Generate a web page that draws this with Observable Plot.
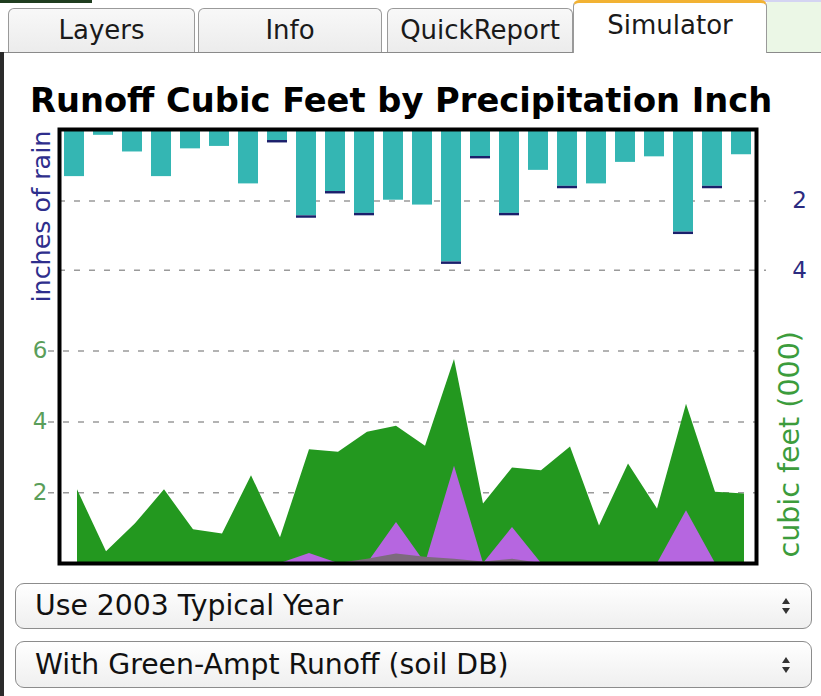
<!DOCTYPE html>
<html>
<head>
<meta charset="utf-8">
<script src="https://cdn.jsdelivr.net/npm/d3@7"></script>
<script src="https://cdn.jsdelivr.net/npm/@observablehq/plot@0.6"></script>
<style>
html, body { margin: 0; padding: 0; background: #fff; }
body { width: 821px; height: 696px; position: relative; overflow: hidden; font-family: "DejaVu Sans", Verdana, sans-serif; }
.strip-dark { position: absolute; left: 0; top: 0; width: 92px; height: 3px; background: #1f3d1f; }
.strip-lav { position: absolute; left: 640px; top: 0; width: 181px; height: 2px; background: #d4d4f2; }
.leftbar { position: absolute; left: 0; top: 52px; width: 4px; height: 644px; background: #2b2b2b; }
.baseline { position: absolute; top: 52px; height: 1px; background: #8a8a8a; }
.greenpad { position: absolute; left: 767px; top: 2px; width: 54px; height: 50px; background: #ebf7e6; }
.tab { position: absolute; top: 8px; height: 44px; box-sizing: border-box; border: 1px solid #9a9a9a; border-bottom: none;
       border-radius: 6px 6px 0 0; background: linear-gradient(#f8f8f8, #ececec); font-size: 26px; color: #1a1a1a;
       text-align: center; line-height: 43px; }
.tab.active { top: 0; height: 53px; background: #fff; border-top: 3px solid #f2b233; line-height: 44px; }
.title { position: absolute; left: 30px; top: 84px; font-weight: bold; font-size: 33.7px; line-height: 1; color: #000; white-space: nowrap; }
.select { position: absolute; left: 15px; width: 797px; box-sizing: border-box; border: 1px solid #8c8c8c; border-radius: 9px;
          background: linear-gradient(#ffffff, #efefef); font-size: 28.3px; color: #111; padding-left: 19px; white-space: nowrap; }
.arrows { position: absolute; right: 20px; top: 50%; width: 10px; height: 18px; margin-top: -9px; }
.arrows:before, .arrows:after { content: ""; position: absolute; left: 1px; border-left: 4px solid transparent; border-right: 4px solid transparent; }
.arrows:before { top: 1px; border-bottom: 6px solid #333; }
.arrows:after { bottom: 1px; border-top: 6px solid #333; }
#chart { position: absolute; left: 0; top: 80px; width: 821px; height: 500px; }
#chart svg { position: absolute; left: 0; top: 0; max-width: none; }
</style>
</head>
<body>
<div class="strip-dark"></div>
<div class="strip-lav"></div>
<div class="greenpad"></div>
<div class="baseline" style="left:0;width:573px"></div>
<div class="baseline" style="left:767px;width:54px"></div>
<div class="leftbar"></div>
<div class="tab" style="left:8px;width:187px">Layers</div>
<div class="tab" style="left:198px;width:184px">Info</div>
<div class="tab" style="left:387px;width:186px">QuickReport</div>
<div class="tab active" style="left:573px;width:194px">Simulator</div>
<div class="title">Runoff Cubic Feet by Precipitation Inch</div>
<div id="chart"></div>
<div class="select" style="top:583px;height:46px;line-height:44px">Use 2003 Typical Year<span class="arrows"></span></div>
<div class="select" style="top:641px;height:47px;line-height:45px">With Green-Ampt Runoff (soil DB)<span class="arrows"></span></div>

<script>
// ---- data ----
const periods = [1,2,3,4,5,6,7,8,9,10,11,12,13,14,15,16,17,18,19,20,21,22,23,24];
// total inches of rain per period (bar length, including dark tip)
const rainInches = [1.30,0.11,0.59,1.30,0.50,0.43,1.51,0.33,2.50,1.80,2.43,1.98,2.12,3.83,0.79,2.43,1.12,1.65,1.51,0.89,0.73,2.97,1.65,0.67];
// dark navy tip at the end of some bars
const rainExcess = [0,0,0,0,0,0,0,0.07,0.07,0.07,0.07,0,0,0.07,0.07,0.07,0,0.07,0,0,0,0.07,0.07,0];
// runoff, thousands of cubic feet
const runoffGreen  = [2.08,0.33,1.12,2.08,0.95,0.83,2.48,0.73,3.21,3.14,3.71,3.88,3.31,5.76,1.68,2.70,2.62,3.29,1.06,2.81,1.54,4.50,2.01,1.96];
const runoffPurple = [0,0,0,0,0,0,0,0,0.28,0,0,1.16,0,2.75,0,1.02,0,0,0,0,0,1.49,0,0];
const runoffGray   = [0,0,0,0,0,0,0,0,0,0,0.12,0.27,0.18,0.12,0.04,0.12,0,0,0,0,0,0,0,0];
const rainTicks = [2, 4];
const runoffTicks = [2, 4, 6];
const rainLabel = "inches of rain";
const runoffLabel = "cubic feet (000)";

// ---- tables built from the arrays ----
const rainRows = periods.flatMap((p, i) => [
  {p, part: "rain", v: rainInches[i] - rainExcess[i]},
  {p, part: "excess", v: rainExcess[i]}
]);
const runoffRows = periods.map((p, i) => ({p, green: runoffGreen[i], purple: runoffPurple[i], gray: runoffGray[i]}));

const W = 821, H = 500;
const font = "DejaVu Sans";

const rainPlot = Plot.plot({
  width: W, height: H,
  marginTop: 51, marginBottom: 17, marginLeft: 59, marginRight: 65,
  style: {background: "transparent", overflow: "visible", fontFamily: font},
  x: {type: "band", domain: periods, paddingInner: 0.3, paddingOuter: 0, axis: null},
  y: {domain: [0, 12.45], reverse: true, axis: null},
  color: {domain: ["rain", "excess"], range: ["#34b6b3", "#1b1f6b"]},
  marks: [
    Plot.ruleY(rainTicks, {y: d => d, stroke: "#9a9a9a", strokeWidth: 1.5, strokeDasharray: "6,9", insetRight: -10}),
    Plot.barY(rainRows, Plot.stackY({x: "p", y: "v", fill: "part", order: ["rain", "excess"]})),
    Plot.text(rainTicks, {y: d => d, text: d => String(d), frameAnchor: "right", dx: 43, textAnchor: "middle",
                          fill: "#2b2b80", fontSize: 23, fontFamily: font})
  ]
});

const runoffPlot = Plot.plot({
  width: W, height: H,
  marginTop: 49, marginBottom: 17, marginLeft: 59, marginRight: 65,
  style: {background: "transparent", overflow: "visible", fontFamily: font},
  x: {type: "point", domain: periods, range: [72, 749], padding: 0, axis: null},
  y: {domain: [0, 12.26], axis: null},
  marks: [
    Plot.ruleY(runoffTicks, {y: d => d, stroke: "#9a9a9a", strokeWidth: 1.5, strokeDasharray: "6,9", insetLeft: -11}),
    Plot.areaY(runoffRows, {x: "p", y1: 0, y2: "green", fill: "#23981f"}),
    Plot.areaY(runoffRows, {x: "p", y1: 0, y2: "purple", fill: "#b666e0"}),
    Plot.areaY(runoffRows, {x: "p", y1: 0, y2: "gray", fill: "#7d6a7d"}),
    Plot.text(runoffTicks, {y: d => d, text: d => String(d), frameAnchor: "left", dx: -12, textAnchor: "end",
                            fill: "#5a9e5a", fontSize: 23, fontFamily: font}),
    Plot.frame({stroke: "#000", strokeWidth: 4}),
    Plot.text([rainLabel], {text: d => d, frameAnchor: "bottom-left", rotate: -90, textAnchor: "start",
                            dx: -10, dy: -261, fill: "#2e2e8c", fontSize: 25.4, fontFamily: font}),
    Plot.text([runoffLabel], {text: d => d, frameAnchor: "bottom-right", rotate: -90, textAnchor: "start",
                              dx: 42, dy: -6, fill: "#3c9c3c", fontSize: 28.5, fontFamily: font})
  ]
});

const chart = document.getElementById("chart");
chart.appendChild(rainPlot);
chart.appendChild(runoffPlot);
</script>
</body>
</html>
